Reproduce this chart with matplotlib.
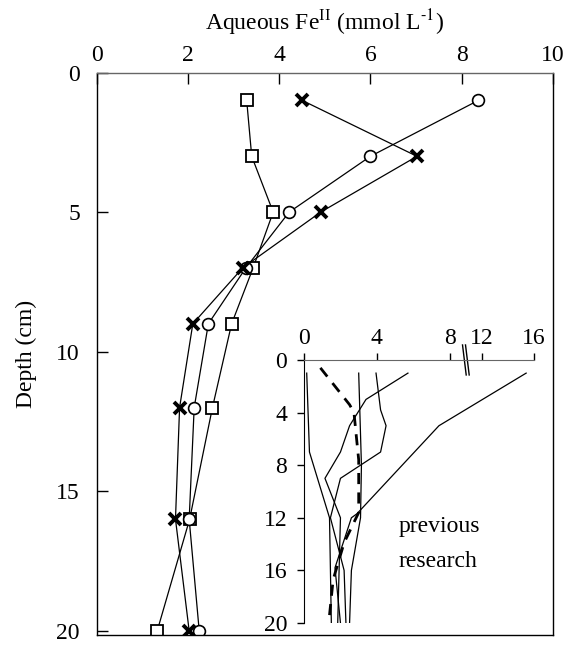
import numpy as np
import matplotlib
matplotlib.use('Agg')
import matplotlib.pyplot as plt

# ---------- font ----------
plt.rcParams['font.family'] = ['Liberation Serif', 'DejaVu Serif']
plt.rcParams['mathtext.fontset'] = 'stix'
plt.rcParams['font.size'] = 17

# main profiles (depth in cm, Fe(II) in mmol/L)
depth = [1, 3, 5, 7, 9, 12, 16, 20]
fe_square = [3.29, 3.40, 3.87, 3.43, 2.96, 2.54, 2.04, 1.33]
fe_circle = [8.36, 6.00, 4.22, 3.27, 2.45, 2.14, 2.03, 2.25]
fe_cross = [4.51, 7.02, 4.91, 3.20, 2.11, 1.82, 1.73, 2.03]

# inset: previous research profiles
prev_a_x = [0.15, 0.3, 1.4, 1.5]
prev_a_d = [1, 7, 12, 20]
prev_b_x = [5.7, 3.4, 2.5, 2.0, 1.15, 2.0, 1.85]
prev_b_d = [1, 3, 5, 7, 9, 12, 20]
prev_c_x = [3.95, 4.2, 4.5, 4.2, 2.0, 1.45, 2.2, 2.3]
prev_c_d = [1, 3.8, 5, 7, 9, 12, 16, 20]
prev_d_x = [15.4, 7.4, 2.9, 2.6, 1.7, 2.0]
prev_d_d = [1, 5, 11.7, 12, 15.8, 20]
prev_e_x = [3.0, 3.15, 3.1, 2.6, 2.5]
prev_e_d = [1, 8, 12, 16, 20]
prev_dash_x = [0.9, 2.5, 2.74, 3.0, 3.0, 2.2, 1.6, 1.4]
prev_dash_d = [0.6, 3.4, 4, 7.6, 11.6, 13.9, 16.7, 19.4]

inset_xticks = [0, 4, 8, 12, 16]
inset_yticks = [0, 4, 8, 12, 16, 20]
main_xticks = [0, 2, 4, 6, 8, 10]
main_yticks = [0, 5, 10, 15, 20]


# broken x scale for the inset (8 -> 12 compressed)
brk_x = np.array([-100.0, 8.0, 12.0, 100.0])
brk_p = np.array([-100.0, 8.0, 9.75, 9.75 + 88 * 0.715])


def fwd(x):
    return np.interp(x, brk_x, brk_p)


def inv(p):
    return np.interp(p, brk_p, brk_x)


fig = plt.figure(figsize=(5.7, 6.48), dpi=100)
ax = fig.add_axes([0.1693, 0.020, 0.8009, 0.8680])

lw = 0.9
ax.plot(fe_square, depth, color='black', lw=lw, marker='s', ms=8,
        mfc='white', mec='black', mew=1.3)
ax.plot(fe_circle, depth, color='black', lw=lw, marker='o', ms=8.5,
        mfc='white', mec='black', mew=1.2)
ax.plot(fe_cross, depth, color='black', lw=lw, marker='x', ms=8,
        mec='black', mew=2.8)

ax.set_xlim(0, 10)
ax.set_ylim(20.15, 0)
ax.set_xticks(main_xticks)
ax.set_yticks(main_yticks)
ax.xaxis.tick_top()
ax.xaxis.set_label_position('top')
ax.tick_params(axis='x', direction='in', length=8, width=1, pad=5)
ax.tick_params(axis='y', direction='in', length=8, width=1, pad=12)
ax.set_xlabel(r'Aqueous Fe$^{\mathregular{II}}$ (mmol L$^{\text{-1}}$)', labelpad=10)
ax.set_ylabel('Depth (cm)', labelpad=14)
for s in ax.spines.values():
    s.set_linewidth(1)
ax.spines['top'].set_color('#666666')

# ---------- inset ----------
ins = fig.add_axes([0.5333, 0.0386, 0.4035, 0.4059])
ins.set_xscale('function', functions=(fwd, inv))
for xs, ds in [(prev_a_x, prev_a_d), (prev_b_x, prev_b_d), (prev_c_x, prev_c_d),
               (prev_d_x, prev_d_d), (prev_e_x, prev_e_d)]:
    ins.plot(xs, ds, color='black', lw=0.9)
ins.plot(prev_dash_x, prev_dash_d, color='black', lw=2, ls=(0, (4, 3)))

ins.set_xlim(0, 16)
ins.set_ylim(20, 0)
ins.set_xticks(inset_xticks)
ins.set_yticks(inset_yticks)
ins.xaxis.tick_top()
ins.tick_params(axis='x', direction='out', length=5, width=1, pad=3)
ins.tick_params(axis='y', direction='out', length=5, width=1, pad=7)
ins.spines['right'].set_visible(False)
ins.spines['bottom'].set_visible(False)
ins.spines['top'].set_color('#666666')
ins.patch.set_alpha(0)

# axis break marks
bx = (fwd(10.0) - fwd(0)) / (fwd(16) - fwd(0))
for off in (-0.0065, 0.0065):
    ins.plot([bx + off - 0.008, bx + off + 0.008], [1.057, 0.943],
             transform=ins.transAxes, color='black', lw=1, clip_on=False)

ins.text(0.41, 0.30, 'previous\nresearch', transform=ins.transAxes,
         ha='left', va='center', linespacing=1.85)

fig.savefig('out.png', dpi=100)
